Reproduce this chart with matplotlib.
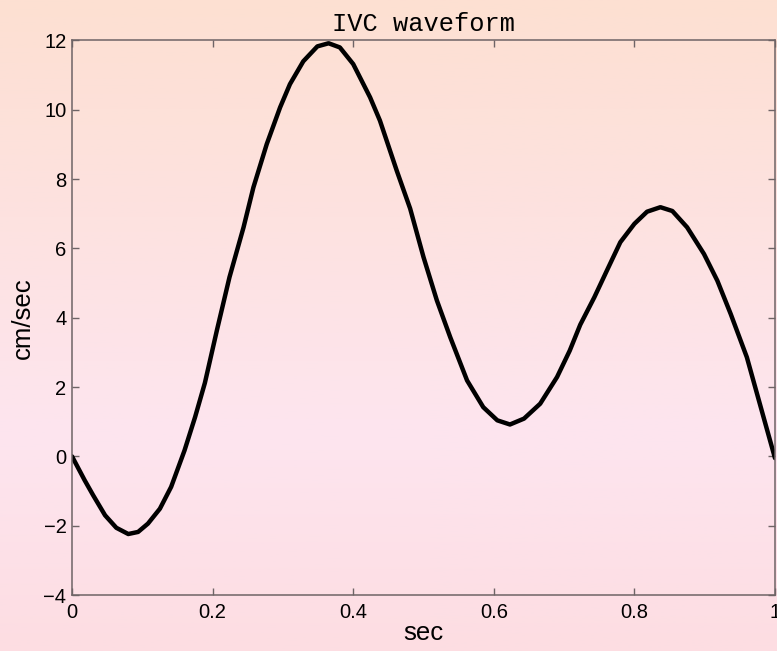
import numpy as np
import matplotlib
matplotlib.use("Agg")
import matplotlib.pyplot as plt
from matplotlib.colors import LinearSegmentedColormap

# IVC waveform samples
t = [0.0, 0.018, 0.03, 0.047, 0.063, 0.08, 0.094, 0.108, 0.125, 0.141, 0.160,
     0.175, 0.189, 0.206, 0.224, 0.244, 0.258, 0.277, 0.296, 0.31, 0.329,
     0.349, 0.365, 0.381, 0.40, 0.424, 0.438, 0.462, 0.481, 0.5, 0.519,
     0.538, 0.562, 0.585, 0.605, 0.623, 0.643, 0.666, 0.69, 0.708, 0.723,
     0.743, 0.762, 0.78, 0.8, 0.818, 0.837, 0.854, 0.875, 0.899, 0.918,
     0.937, 0.96, 0.985, 1.0]
v = [0.0, -0.69, -1.12, -1.7, -2.06, -2.24, -2.18, -1.94, -1.51, -0.88, 0.17,
     1.13, 2.12, 3.63, 5.17, 6.61, 7.76, 9.01, 10.07, 10.74, 11.4,
     11.83, 11.92, 11.8, 11.32, 10.36, 9.69, 8.24, 7.15, 5.75, 4.5,
     3.44, 2.19, 1.42, 1.04, 0.92, 1.09, 1.52, 2.29, 3.05, 3.8,
     4.59, 5.41, 6.18, 6.71, 7.06, 7.19, 7.08, 6.61, 5.84, 5.07,
     4.11, 2.86, 1.04, -0.05]

xticks = [0, 0.2, 0.4, 0.6, 0.8, 1]
xticklabels = ["0", "0.2", "0.4", "0.6", "0.8", "1"]
yticks = [-4, -2, 0, 2, 4, 6, 8, 10, 12]

fig = plt.figure(figsize=(7.77, 6.51), dpi=100)

# gradient background (peach at top, pink at bottom)
bg = fig.add_axes([0, 0, 1, 1], zorder=-10)
bg_cmap = LinearSegmentedColormap.from_list(
    "bg", ["#fde0d2", "#fde2e0", "#fde5ef", "#fddde2"])
bg.imshow(np.linspace(0, 1, 256).reshape(-1, 1), aspect="auto", cmap=bg_cmap,
          extent=[0, 1, 0, 1])
bg.axis("off")

ax = fig.add_axes([0.0927, 0.086, 0.9047, 0.8518])
ax.patch.set_alpha(0)
ax.plot(t, v, color="black", linewidth=3.2, solid_joinstyle="round",
        solid_capstyle="round")

ax.set_xlim(0, 1)
ax.set_ylim(-4, 12)
ax.set_xticks(xticks)
ax.set_xticklabels(xticklabels)
ax.set_yticks(yticks)

for s in ax.spines.values():
    s.set_color("#6e6466")
    s.set_linewidth(1.1)
ax.tick_params(direction="in", length=5, width=1, color="#6e6466",
               top=True, right=True, labelsize=14.5, labelcolor="black")
ax.tick_params(axis="x", pad=6)
ax.tick_params(axis="y", pad=4)
for lab in ax.get_xticklabels() + ax.get_yticklabels():
    lab.set_family("Liberation Sans")

ax.set_title("IVC waveform", family="Liberation Mono", fontsize=18.3, pad=7)
ax.set_xlabel("sec", family="Liberation Sans", fontsize=18.5, labelpad=-1)
ax.set_ylabel("cm/sec", family="Liberation Sans", fontsize=18.5, labelpad=6)

fig.savefig("out.png", dpi=100)
